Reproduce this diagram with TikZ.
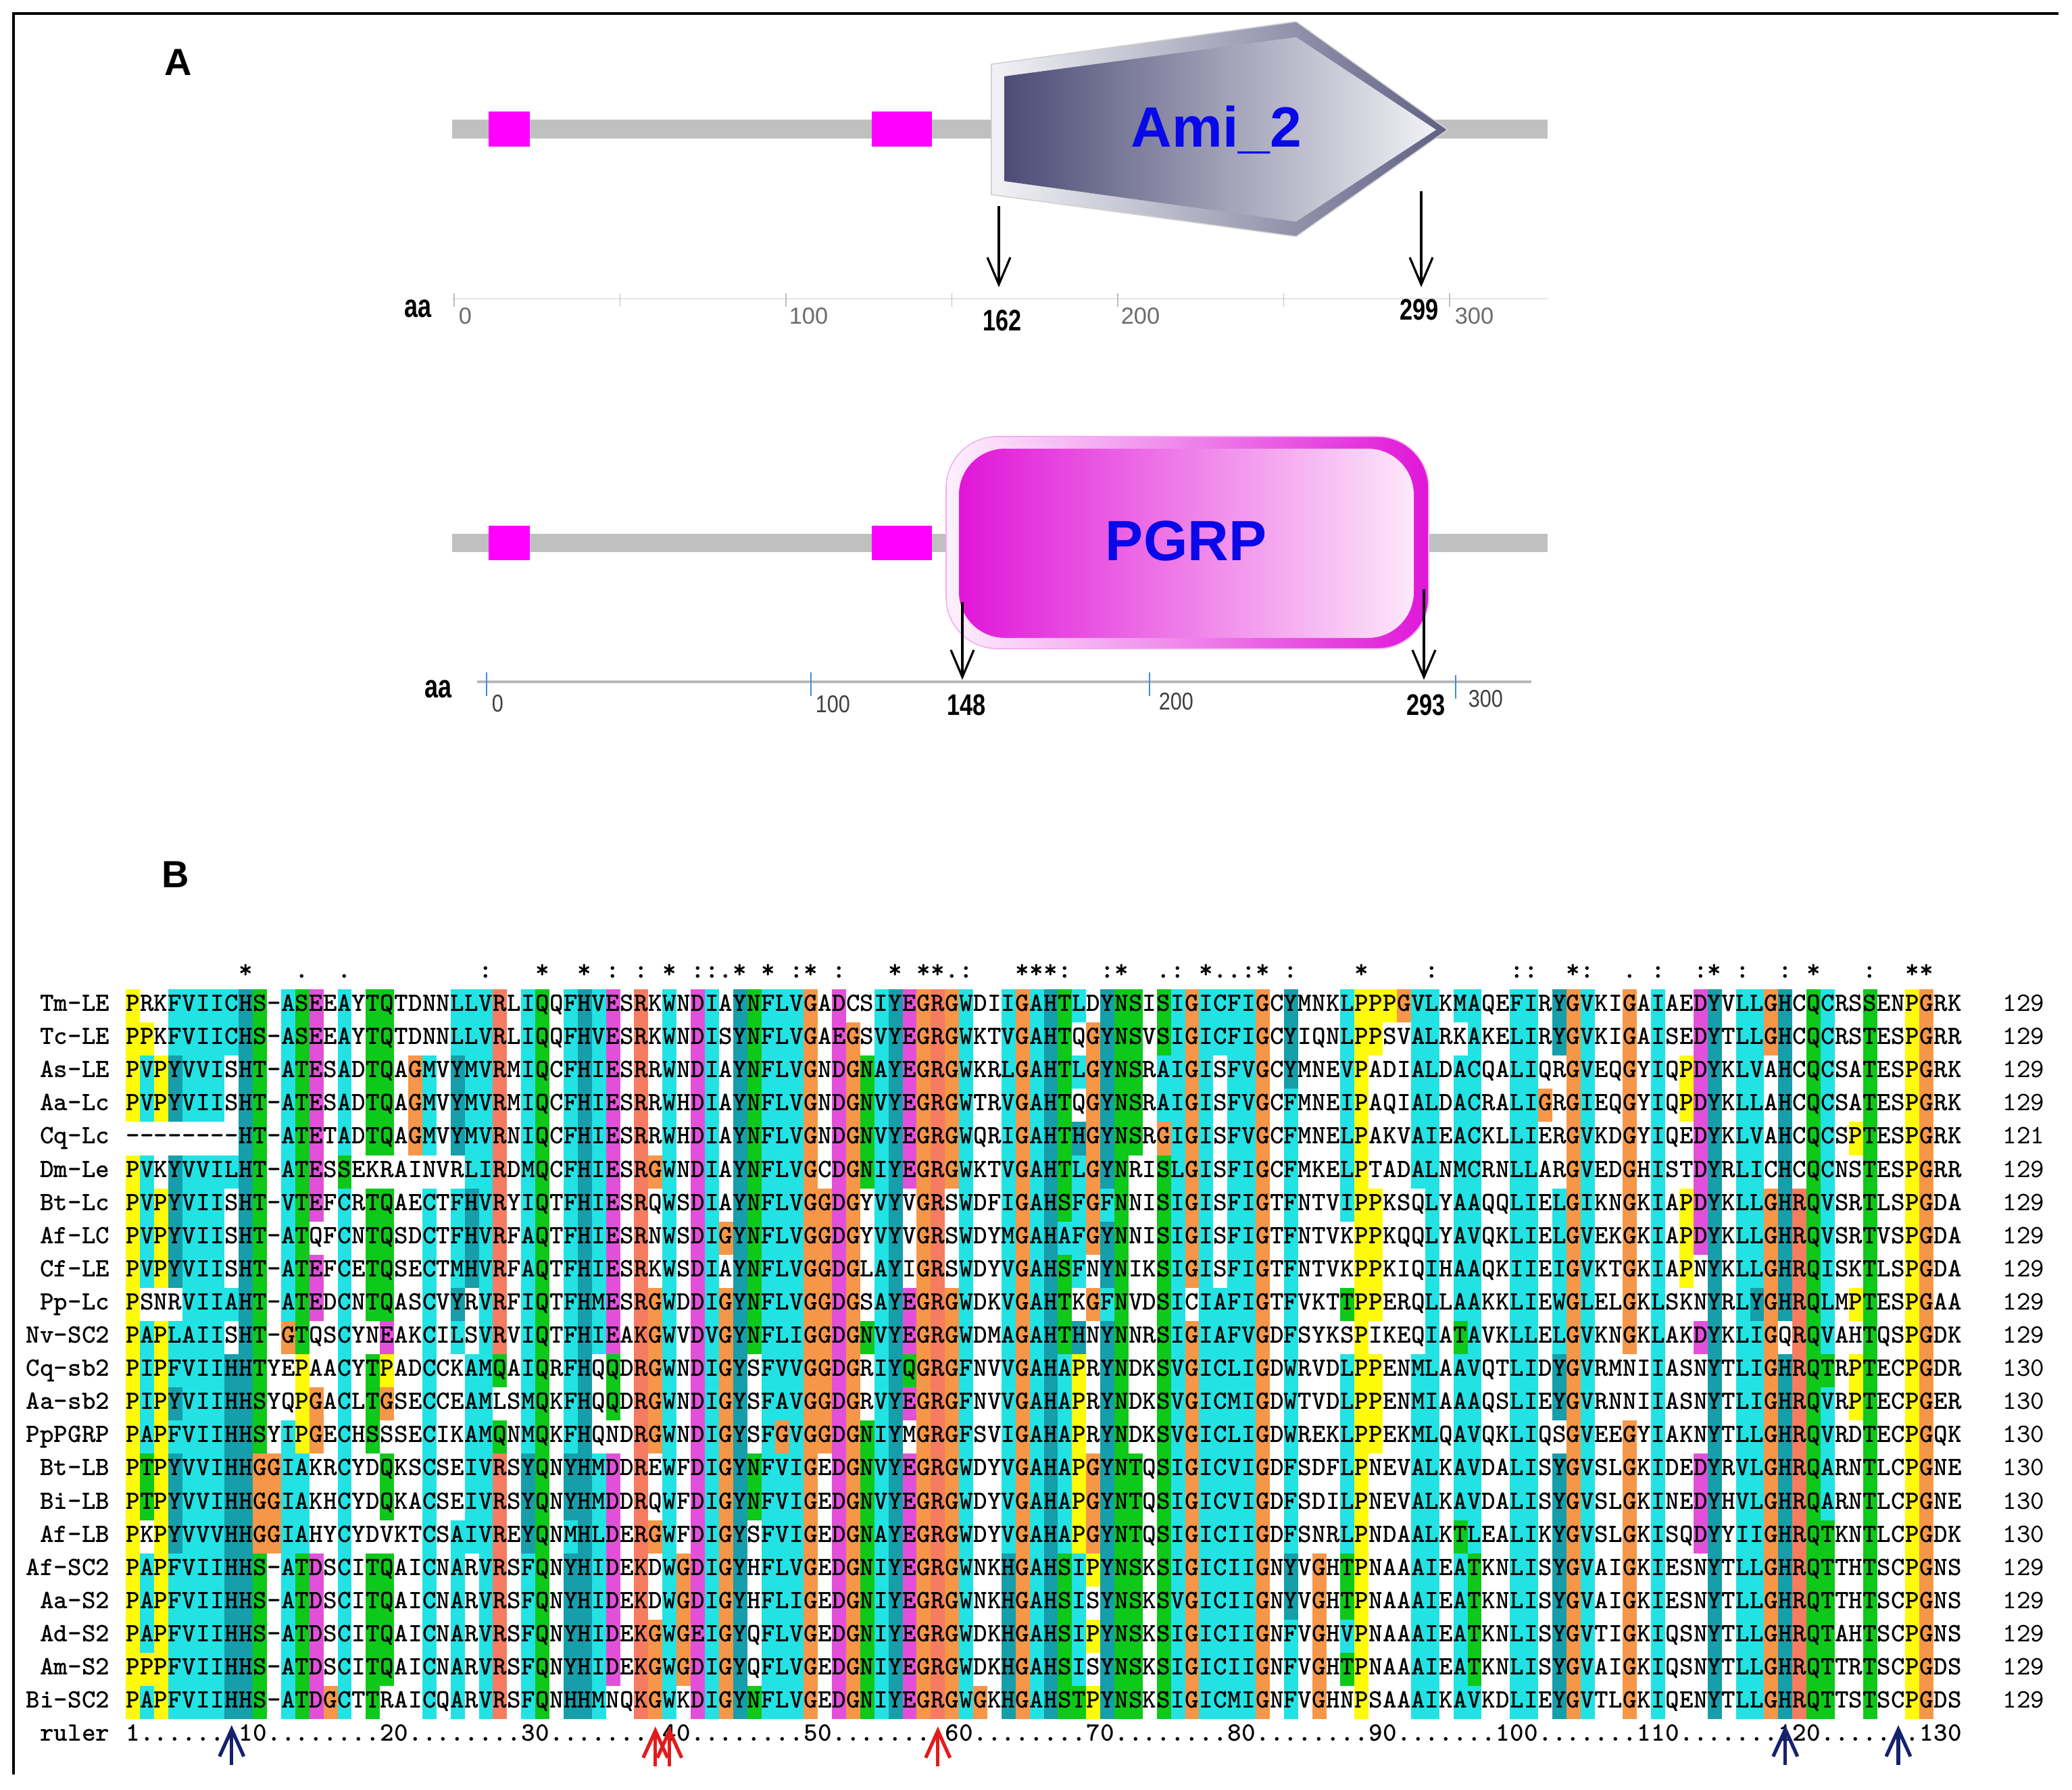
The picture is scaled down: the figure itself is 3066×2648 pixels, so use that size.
\documentclass[tikz,border=0pt]{standalone}
\usepackage{fontspec}
\setmainfont{Liberation Sans}
\usetikzlibrary{arrows.meta}

\definecolor{cHyd}{RGB}{34,226,228}
\definecolor{cAro}{RGB}{22,158,170}
\definecolor{cPol}{RGB}{14,200,26}
\definecolor{cNeg}{RGB}{226,80,218}
\definecolor{cPos}{RGB}{245,124,96}
\definecolor{cGly}{RGB}{246,150,72}
\definecolor{cPro}{RGB}{255,250,10}
\definecolor{barGray}{RGB}{192,192,192}
\definecolor{boxMag}{RGB}{255,0,255}
\definecolor{axBlue}{RGB}{60,140,215}
\definecolor{arrNavy}{RGB}{22,34,110}
\definecolor{arrRed}{RGB}{226,28,28}
\definecolor{domBlue}{RGB}{8,8,232}
\definecolor{amiDark}{RGB}{76,76,118}
\definecolor{amiLight}{RGB}{242,242,246}
\definecolor{amiRim}{RGB}{96,96,132}
\definecolor{pgMag}{RGB}{224,22,216}
\definecolor{pgLight}{RGB}{253,232,250}

\newcommand\alnfont{\ttfamily\bfseries\fontsize{9.8pt}{10pt}\selectfont}
\newcommand\alnnumfont{\ttfamily\fontsize{9.8pt}{10pt}\selectfont}
\newcommand\AlnCell[3]{\fill[#3] ({186+(#1-1)*20.9},{1464+(#2-1)*49.1}) rectangle ++(20.95,49.15);}
\newcommand\AlnChar[3]{\node[alnchar,name=s#2c#1] at ({186+(#1-0.5)*20.9},{1496.5+(#2-1)*49.1}) {#3};}
\newcommand\AlnCons[2]{\node[alnchar,name=cons#1] at ({186+(#1-0.5)*20.9},1447.5) {#2};}

\ExplSyntaxOn
\int_new:N \l__aln_col_int
\int_new:N \l__aln_hp_int
\tl_new:N \l__aln_set_tl
\tl_new:N \l__aln_ch_tl
\tl_new:N \l__aln_clr_tl
\tl_new:N \l__aln_cons_tl
\bool_new:N \l__aln_ok_bool
\bool_new:N \l__aln_tmp_bool
\clist_const:Nn \c__aln_letters_clist {A,C,D,E,F,G,H,I,K,L,M,N,P,Q,R,S,T,V,W,Y,-}
\clist_map_inline:Nn \c__aln_letters_clist { \int_new:c { l__aln_n #1 _int } }
\clist_map_inline:nn {hp,hq,kr,ed,qe,ts,nn,pp,bD,bE,bQ,bK,bR,bS,bT,bN,bG}
  { \bool_new:c { l__aln_f #1 _bool } }

\cs_new_protected:Npn \AlnStore #1#2
  {
    \int_zero:N \l__aln_col_int
    \tl_map_inline:nn {#2}
      {
        \int_incr:N \l__aln_col_int
        \tl_gclear_new:c { g__aln_ #1 _ \int_use:N \l__aln_col_int _tl }
        \tl_gset:cn { g__aln_ #1 _ \int_use:N \l__aln_col_int _tl } {##1}
      }
  }

\cs_new:Npn \__aln_n:n #1 { \int_use:c { l__aln_n #1 _int } }
\cs_new:Npn \__aln_gt:nn #1#2 { \int_compare_p:nNn { 100 * ( #1 ) } > { #2 * 22 } }
\cs_new_protected:Npn \__aln_flag:nn #1#2 { \bool_set:cn { l__aln_f #1 _bool } {#2} }
\cs_new:Npn \__aln_f:n #1 { \bool_if_p:c { l__aln_f #1 _bool } }
\cs_new_protected:Npn \__aln_set:nn #1#2
  { \bool_if:nT {#1} { \tl_set:Nn \l__aln_clr_tl {#2} } }

\cs_new_protected:Npn \__aln_subset:nN #1#2
  {
    \bool_set_true:N #2
    \tl_map_inline:Nn \l__aln_set_tl
      { \tl_if_in:nnF {#1} {##1} { \bool_set_false:N #2 \tl_map_break: } }
  }
\cs_new_protected:Npn \__aln_anygroup:nN #1#2
  {
    \bool_set_false:N #2
    \clist_map_inline:nn {#1}
      {
        \__aln_subset:nN {##1} \l__aln_tmp_bool
        \bool_if:NT \l__aln_tmp_bool { \bool_set_true:N #2 \clist_map_break: }
      }
  }

\cs_new_protected:Npn \__aln_fillcol:n #1
  {
    \clist_map_inline:Nn \c__aln_letters_clist { \int_zero:c { l__aln_n ##1 _int } }
    \int_step_inline:nn {22}
      { \int_incr:c { l__aln_n \tl_use:c { g__aln_ ##1 _ #1 _tl } _int } }
    \int_set:Nn \l__aln_hp_int
      {
        \__aln_n:n W + \__aln_n:n L + \__aln_n:n V + \__aln_n:n I + \__aln_n:n M
        + \__aln_n:n A + \__aln_n:n F + \__aln_n:n C + \__aln_n:n Y + \__aln_n:n H
        + \__aln_n:n P
      }
    \__aln_flag:nn {hp} { \__aln_gt:nn { \l__aln_hp_int } {60} }
    \__aln_flag:nn {hq} { \__aln_gt:nn { \l__aln_hp_int } {80} }
    \__aln_flag:nn {kr} { \__aln_gt:nn { \__aln_n:n K + \__aln_n:n R } {60} }
    \__aln_flag:nn {ed} { \__aln_gt:nn { \__aln_n:n E + \__aln_n:n D } {50} }
    \__aln_flag:nn {qe} { \__aln_gt:nn { \__aln_n:n Q + \__aln_n:n E } {50} }
    \__aln_flag:nn {ts} { \__aln_gt:nn { \__aln_n:n T + \__aln_n:n S } {50} }
    \__aln_flag:nn {nn} { \__aln_gt:nn { \__aln_n:n N } {50} }
    \__aln_flag:nn {pp} { \__aln_gt:nn { \__aln_n:n P } {50} }
    \clist_map_inline:nn {D,E,Q,K,R,S,T,N,G}
      { \__aln_flag:nn {b##1} { \__aln_gt:nn { \__aln_n:n ##1 } {85} } }
    \int_step_inline:nn {22}
      {
        \tl_set_eq:Nc \l__aln_ch_tl { g__aln_ ##1 _ #1 _tl }
        \tl_clear:N \l__aln_clr_tl
        \exp_args:NV \str_case:nn \l__aln_ch_tl
          {
            {G} { \tl_set:Nn \l__aln_clr_tl {cGly} }
            {P} { \tl_set:Nn \l__aln_clr_tl {cPro} }
            {W} { \__aln_set:nn { \__aln_f:n {hp} || \__aln_f:n {pp} } {cHyd} }
            {L} { \__aln_set:nn { \__aln_f:n {hp} || \__aln_f:n {pp} } {cHyd} }
            {V} { \__aln_set:nn { \__aln_f:n {hp} || \__aln_f:n {pp} } {cHyd} }
            {I} { \__aln_set:nn { \__aln_f:n {hp} || \__aln_f:n {pp} } {cHyd} }
            {M} { \__aln_set:nn { \__aln_f:n {hp} || \__aln_f:n {pp} } {cHyd} }
            {F} { \__aln_set:nn { \__aln_f:n {hp} || \__aln_f:n {pp} } {cHyd} }
            {A} { \__aln_set:nn { \__aln_f:n {hp} || \__aln_f:n {pp} || \__aln_f:n {ts}
                    || \__aln_f:n {bS} || \__aln_f:n {bT} || \__aln_f:n {bG} } {cHyd} }
            {C} { \__aln_set:nn { \__aln_f:n {hp} || \__aln_f:n {pp} || \__aln_f:n {bS} } {cHyd} }
            {H} { \__aln_set:nn { \__aln_f:n {hp} || \__aln_f:n {pp} } {cAro} }
            {Y} { \__aln_set:nn { \__aln_f:n {hp} || \__aln_f:n {pp} } {cAro} }
            {T} { \__aln_set:nn { \__aln_f:n {ts} || \__aln_f:n {bS} || \__aln_f:n {bT}
                    || \__aln_f:n {hp} } {cPol} }
            {S} { \__aln_set:nn { \__aln_f:n {ts} || \__aln_f:n {bS} || \__aln_f:n {bT}
                    || \__aln_f:n {hq} } {cPol} }
            {N} { \__aln_set:nn { \__aln_f:n {nn} || \__aln_f:n {bD} } {cPol} }
            {Q} { \__aln_set:nn { \__aln_f:n {qe} || \__aln_f:n {kr} || \__aln_f:n {bQ}
                    || \__aln_f:n {bE} || \__aln_f:n {bK} || \__aln_f:n {bR} } {cPol} }
            {E} { \__aln_set:nn { \__aln_f:n {ed} || \__aln_f:n {qe} || \__aln_f:n {bD}
                    || \__aln_f:n {bE} || \__aln_f:n {bQ} } {cNeg} }
            {D} { \__aln_set:nn { \__aln_f:n {ed} || \__aln_f:n {nn} || \__aln_f:n {bD}
                    || \__aln_f:n {bE} || \__aln_f:n {bN} } {cNeg} }
            {K} { \__aln_set:nn { \__aln_f:n {kr} || \__aln_f:n {bK} || \__aln_f:n {bR}
                    || \__aln_f:n {bQ} } {cPos} }
            {R} { \__aln_set:nn { \__aln_f:n {kr} || \__aln_f:n {bK} || \__aln_f:n {bR}
                    || \__aln_f:n {bQ} } {cPos} }
          }
        \tl_if_empty:NF \l__aln_clr_tl
          { \use:e { \exp_not:N \AlnCell {#1} {##1} { \l__aln_clr_tl } } }
      }
    \tl_clear:N \l__aln_set_tl
    \clist_map_inline:Nn \c__aln_letters_clist
      {
        \int_compare:nNnT { \__aln_n:n {##1} } > {0}
          { \tl_put_right:Nn \l__aln_set_tl {##1} }
      }
    \tl_clear:N \l__aln_cons_tl
    \int_compare:nNnT { \__aln_n:n - } = {0}
      {
        \int_compare:nNnTF { \tl_count:N \l__aln_set_tl } = {1}
          { \tl_set:Nn \l__aln_cons_tl {*} }
          {
            \__aln_anygroup:nN {STA,NEQK,NHQK,NDEQ,QHRK,MILV,MILF,HY,FYW} \l__aln_ok_bool
            \bool_if:NTF \l__aln_ok_bool
              { \tl_set:Nn \l__aln_cons_tl {:} }
              {
                \__aln_anygroup:nN
                  {CSA,ATV,SAG,STNK,STPA,SGND,SNDEQK,NDEQHK,NEQHRK,FVLIM,HFY}
                  \l__aln_ok_bool
                \bool_if:NT \l__aln_ok_bool { \tl_set:Nn \l__aln_cons_tl {.} }
              }
          }
      }
    \tl_if_empty:NF \l__aln_cons_tl
      { \use:e { \exp_not:N \AlnCons {#1} { \exp_not:V \l__aln_cons_tl } } }
  }

\cs_new_protected:Npn \AlnDrawFills
  { \int_step_function:nN {130} \__aln_fillcol:n }

\cs_new_protected:Npn \AlnDrawText
  {
    \int_step_inline:nn {23}
      {
        \int_step_inline:nn {130}
          {
            \use:e { \exp_not:N \AlnChar {####1} {##1}
              { \tl_use:c { g__aln_ ##1 _ ####1 _tl } } }
          }
      }
  }
\ExplSyntaxOff

\AlnStore{1}{PRKFVIICHS -ASEEAYTQT DNNLLVRLIQ QFHVESRKWN DIAYNFLVGA DCSIYEGRGW DIIGAHTLDY NSISIGICFI GCYMNKLPPP GVLKMAQEFI RYGVKIGAIA EDYVLLGHCQ CRSSENPGRK}
\AlnStore{2}{PPKFVIICHS -ASEEAYTQT DNNLLVRLIQ QFHVESRKWN DISYNFLVGA EGSVYEGRGW KTVGAHTQGY NSVSIGICFI GCYIQNLPPS VALRKAKELI RYGVKIGAIS EDYTLLGHCQ CRSTESPGRR}
\AlnStore{3}{PVPYVVISHT -ATESADTQA GMVYMVRMIQ CFHIESRRWN DIAYNFLVGN DGNAYEGRGW KRLGAHTLGY NSRAIGISFV GCYMNEVPAD IALDACQALI QRGVEQGYIQ PDYKLVAHCQ CSATESPGRK}
\AlnStore{4}{PVPYVIISHT -ATESADTQA GMVYMVRMIQ CFHIESRRWH DIAYNFLVGN DGNVYEGRGW TRVGAHTQGY NSRAIGISFV GCFMNEIPAQ IALDACRALI GRGIEQGYIQ PDYKLLAHCQ CSATESPGRK}
\AlnStore{5}{--------HT -ATETADTQA GMVYMVRNIQ CFHIESRRWH DIAYNFLVGN DGNVYEGRGW QRIGAHTHGY NSRGIGISFV GCFMNELPAK VAIEACKLLI ERGVKDGYIQ EDYKLVAHCQ CSPTESPGRK}
\AlnStore{6}{PVKYVVILHT -ATESSEKRA INVRLIRDMQ CFHIESRGWN DIAYNFLVGC DGNIYEGRGW KTVGAHTLGY NRISLGISFI GCFMKELPTA DALNMCRNLL ARGVEDGHIS TDYRLICHCQ CNSTESPGRR}
\AlnStore{7}{PVPYVIISHT -VTEFCRTQA ECTFHVRYIQ TFHIESRQWS DIAYNFLVGG DGYVYVGRSW DFIGAHSFGF NNISIGISFI GTFNTVIPPK SQLYAAQQLI ELGIKNGKIA PDYKLLGHRQ VSRTLSPGDA}
\AlnStore{8}{PVPYVIISHT -ATQFCNTQS DCTFHVRFAQ TFHIESRNWS DIGYNFLVGG DGYVYVGRSW DYMGAHAFGY NNISIGISFI GTFNTVKPPK QQLYAVQKLI ELGVEKGKIA PDYKLLGHRQ VSRTVSPGDA}
\AlnStore{9}{PVPYVIISHT -ATEFCETQS ECTMHVRFAQ TFHIESRKWS DIAYNFLVGG DGLAYIGRSW DYVGAHSFNY NIKSIGISFI GTFNTVKPPK IQIHAAQKII EIGVKTGKIA PNYKLLGHRQ ISKTLSPGDA}
\AlnStore{10}{PSNRVIIAHT -ATEDCNTQA SCVYRVRFIQ TFHMESRGWD DIGYNFLVGG DGSAYEGRGW DKVGAHTKGF NVDSICIAFI GTFVKTTPPE RQLLAAKKLI EWGLELGKLS KNYRLYGHRQ LMPTESPGAA}
\AlnStore{11}{PAPLAIISHT -GTQSCYNEA KCILSVRVIQ TFHIEAKGWV DVGYNFLIGG DGNVYEGRGW DMAGAHTHNY NNRSIGIAFV GDFSYKSPIK EQIATAVKLL ELGVKNGKLA KDYKLIGQRQ VAHTQSPGDK}
\AlnStore{12}{PIPFVIIHHT YEPAACYTPA DCCKAMQAIQ RFHQQDRGWN DIGYSFVVGG DGRIYQGRGF NVVGAHAPRY NDKSVGICLI GDWRVDLPPE NMLAAVQTLI DYGVRMNIIA SNYTLIGHRQ TRPTECPGDR}
\AlnStore{13}{PIPYVIIHHS YQPGACLTGS ECCEAMLSMQ KFHQQDRGWN DIGYSFAVGG DGRVYEGRGF NVVGAHAPRY NDKSVGICMI GDWTVDLPPE NMIAAAQSLI EYGVRNNIIA SNYTLIGHRQ VRPTECPGER}
\AlnStore{14}{PAPFVIIHHS YIPGECHSSS ECIKAMQNMQ KFHQNDRGWN DIGYSFGVGG DGNIYMGRGF SVIGAHAPRY NDKSVGICLI GDWREKLPPE KMLQAVQKLI QSGVEEGYIA KNYTLLGHRQ VRDTECPGQK}
\AlnStore{15}{PTPYVVIHHG GIAKRCYDQK SCSEIVRSYQ NYHMDDREWF DIGYNFVIGE DGNVYEGRGW DYVGAHAPGY NTQSIGICVI GDFSDFLPNE VALKAVDALI SYGVSLGKID EDYRVLGHRQ ARNTLCPGNE}
\AlnStore{16}{PTPYVVIHHG GIAKHCYDQK ACSEIVRSYQ NYHMDDRQWF DIGYNFVIGE DGNVYEGRGW DYVGAHAPGY NTQSIGICVI GDFSDILPNE VALKAVDALI SYGVSLGKIN EDYHVLGHRQ ARNTLCPGNE}
\AlnStore{17}{PKPYVVVHHG GIAHYCYDVK TCSAIVREYQ NMHLDERGWF DIGYSFVIGE DGNAYEGRGW DYVGAHAPGY NTQSIGICII GDFSNRLPND AALKTLEALI KYGVSLGKIS QDYYIIGHRQ TKNTLCPGDK}
\AlnStore{18}{PAPFVIIHHS -ATDSCITQA ICNARVRSFQ NYHIDEKDWG DIGYHFLVGE DGNIYEGRGW NKHGAHSIPY NSKSIGICII GNYVGHTPNA AAIEATKNLI SYGVAIGKIE SNYTLLGHRQ TTHTSCPGNS}
\AlnStore{19}{PAPFVIIHHS -ATDSCITQA ICNARVRSFQ NYHIDEKDWG DIGYHFLIGE DGNIYEGRGW NKHGAHSISY NSKSVGICII GNYVGHTPNA AAIEATKNLI SYGVAIGKIE SNYTLLGHRQ TTHTSCPGNS}
\AlnStore{20}{PAPFVIIHHS -ATDSCITQA ICNARVRSFQ NYHIDEKGWG EIGYQFLVGE DGNIYEGRGW DKHGAHSIPY NSKSIGICII GNFVGHVPNA AAIEATKNLI SYGVTIGKIQ SNYTLLGHRQ TAHTSCPGNS}
\AlnStore{21}{PPPFVIIHHS -ATDSCITQA ICNARVRSFQ NYHIDEKGWG DIGYQFLVGE DGNIYEGRGW DKHGAHSISY NSKSIGICII GNFVGHTPNA AAIEATKNLI SYGVAIGKIQ SNYTLLGHRQ TTRTSCPGDS}
\AlnStore{22}{PAPFVIIHHS -ATDGCTTRA ICQARVRSFQ NHHMNQKGWK DIGYNFLVGE DGNIYEGRGW GKHGAHSTPY NSKSIGICMI GNFVGHNPSA AAIKAVKDLI EYGVTLGKIQ ENYTLLGHRQ TTSTSCPGDS}
\AlnStore{23}{1.......10 ........20 ........30 ........40 ........50 ........60 ........70 ........80 ........90 .......100 .......110 .......120 .......130}

\begin{document}
\begin{tikzpicture}[x=0.25pt,y=-0.25pt,
  alnchar/.style={anchor=base,inner sep=0pt,font=\alnfont},
  alnlab/.style={anchor=base east,inner sep=0pt,font=\alnfont},
  alnnum/.style={anchor=base east,inner sep=0pt,font=\alnnumfont},
  panel/.style={inner sep=0pt,font=\fontsize{14pt}{14pt}\selectfont\bfseries},
  domlab/.style={anchor=base,inner sep=0pt,text=domBlue,font=\fontsize{21pt}{21pt}\selectfont\bfseries},
  axnumtop/.style={anchor=base west,inner sep=0pt,text=black!58,font=\fontsize{8.6pt}{9pt}\selectfont},
  axnumbot/.style={anchor=base west,inner sep=0pt,text=black!75,font=\fontsize{9pt}{9pt}\selectfont},
  posnum/.style={anchor=base,inner sep=0pt,font=\fontsize{11pt}{11pt}\selectfont\bfseries},
  aalab/.style={anchor=base west,inner sep=0pt,font=\fontsize{12pt}{12pt}\selectfont\bfseries},
  blkarrow/.style={draw=black,line width=0.8pt,-{Straight Barb[length=10pt,width=8.5pt,line width=0.8pt]}},
  navyarrow/.style={draw=arrNavy,line width=1.3pt,-{Straight Barb[length=10pt,width=9pt,line width=1.3pt]}},
  redarrow/.style={draw=arrRed,line width=1.3pt,-{Straight Barb[length=10pt,width=9pt,line width=1.3pt]}}]
\useasboundingbox (0,0) rectangle (3066,2648);
\fill[white] (0,0) rectangle (3066,2648);
\draw[line width=0.9pt] (20,2626) -- (20,20) -- (3046,20);

% ---------- panel A ----------
\node[panel,name=lblA] at (264,92) {A};
\node[panel,name=lblB] at (260,1294) {B};

% top protein
\fill[barGray] (669,177) rectangle (2290,205);
\fill[boxMag] (723,165) rectangle (784,217);
\fill[boxMag] (1290,165) rectangle (1379,217);
\shade[left color=amiLight,right color=amiRim,draw=black!18,line width=0.4pt]
  (1467,95) -- (1918,32) -- (2142,192) -- (1918,350) -- (1467,288) -- cycle;
\shade[left color=amiDark,right color=amiLight]
  (1486,113) -- (1918,55) -- (2125,192) -- (1918,328) -- (1486,268) -- cycle;
\node[domlab,name=ami] at (1800,217) {Ami\_2};
\coordinate (t1s) at (1478,305); \coordinate (t1e) at (1478,425);
\coordinate (t2s) at (2103,283); \coordinate (t2e) at (2103,425);
\draw[blkarrow] (t1s) -- (t1e);
\draw[blkarrow] (t2s) -- (t2e);
\draw[black!10,line width=0.7pt] (669,442) -- (2290,442);
\foreach \t in {672,917.5,1163,1408.5,1654,1899.5,2145}
  \draw[black!25,line width=0.4pt] (\t,434) -- (\t,454);
\node[aalab,name=aaTop] at (598,469) {\scalebox{0.75}[1]{aa}};
\node[axnumtop,name=tn0] at (678,479) {0};
\node[axnumtop,name=tn100] at (1167,479) {100};
\node[axnumtop,name=tn200] at (1658,479) {200};
\node[axnumtop,name=tn300] at (2152,479) {300};
\node[posnum,name=p162] at (1483,489) {\scalebox{0.78}[1]{162}};
\node[posnum,name=p299] at (2100,473) {\scalebox{0.78}[1]{299}};

% bottom protein
\fill[barGray] (669,790) rectangle (2290,817);
\fill[boxMag] (723,778) rectangle (784,829);
\fill[boxMag] (1290,778) rectangle (1379,829);
\shade[left color=white!94!pgMag,right color=pgMag,draw=pgMag!35,line width=0.4pt,rounded corners=19pt]
  (1400,646) rectangle (2114,960);
\shade[left color=pgMag,right color=pgLight,rounded corners=17pt]
  (1419,664) rectangle (2092,944);
\node[domlab,name=pgrp] at (1755,829) {PGRP};
\coordinate (b1s) at (1424,891); \coordinate (b1e) at (1424,1006);
\coordinate (b2s) at (2107,872); \coordinate (b2e) at (2107,1006);
\draw[black!28,line width=1.1pt] (706,1009) -- (2266,1009);
\draw[blkarrow] (b1s) -- (b1e);
\draw[blkarrow] (b2s) -- (b2e);
\foreach \t/\a/\b in {720/995/1030,1200/995/1030,1701/995/1030,2154/999/1034}
  \draw[axBlue,line width=0.6pt] (\t,\a) -- (\t,\b);
\node[aalab,name=aaBot] at (628,1032) {\scalebox{0.75}[1]{aa}};
\node[axnumbot,name=bn0] at (727,1053) {\scalebox{0.85}[1]{0}};
\node[axnumbot,name=bn100] at (1206,1054) {\scalebox{0.85}[1]{100}};
\node[axnumbot,name=bn200] at (1714,1050) {\scalebox{0.85}[1]{200}};
\node[axnumbot,name=bn300] at (2172,1046) {\scalebox{0.85}[1]{300}};
\node[posnum,name=p148] at (1430,1058) {\scalebox{0.78}[1]{148}};
\node[posnum,name=p293] at (2110,1058) {\scalebox{0.78}[1]{293}};

% ---------- panel B ----------
\AlnDrawFills
\AlnDrawText
\foreach \lab/\cnt [count=\r] in {Tm-LE/129,Tc-LE/129,As-LE/129,Aa-Lc/129,Cq-Lc/121,
  Dm-Le/129,Bt-Lc/129,Af-LC/129,Cf-LE/129,Pp-Lc/129,Nv-SC2/129,Cq-sb2/130,
  Aa-sb2/130,PpPGRP/130,Bt-LB/130,Bi-LB/130,Af-LB/130,Af-SC2/129,Aa-S2/129,
  Ad-S2/129,Am-S2/129,Bi-SC2/129}
  {\node[alnlab,name=lab\r] at (163,{1496.5+(\r-1)*49.1}) {\lab};
   \node[alnnum,name=cnt\r] at (3026,{1496.5+(\r-1)*49.1}) {\cnt};}
\node[alnlab,name=labruler] at (163,2576.7) {ruler};

\coordinate (n1s) at (342.8,2612);  \coordinate (n1e) at (342.8,2553);
\coordinate (n2s) at (2641.8,2612); \coordinate (n2e) at (2641.8,2553);
\coordinate (n3s) at (2809,2612);   \coordinate (n3e) at (2809,2553);
\coordinate (r1s) at (969.8,2614);  \coordinate (r1e) at (969.8,2555);
\coordinate (r2s) at (990.7,2614);  \coordinate (r2e) at (990.7,2555);
\coordinate (r3s) at (1387.8,2614); \coordinate (r3e) at (1387.8,2555);
\draw[navyarrow] (n1s) -- (n1e);
\draw[navyarrow] (n2s) -- (n2e);
\draw[navyarrow] (n3s) -- (n3e);
\draw[redarrow] (r1s) -- (r1e);
\draw[redarrow] (r2s) -- (r2e);
\draw[redarrow] (r3s) -- (r3e);
\end{tikzpicture}
\end{document}
